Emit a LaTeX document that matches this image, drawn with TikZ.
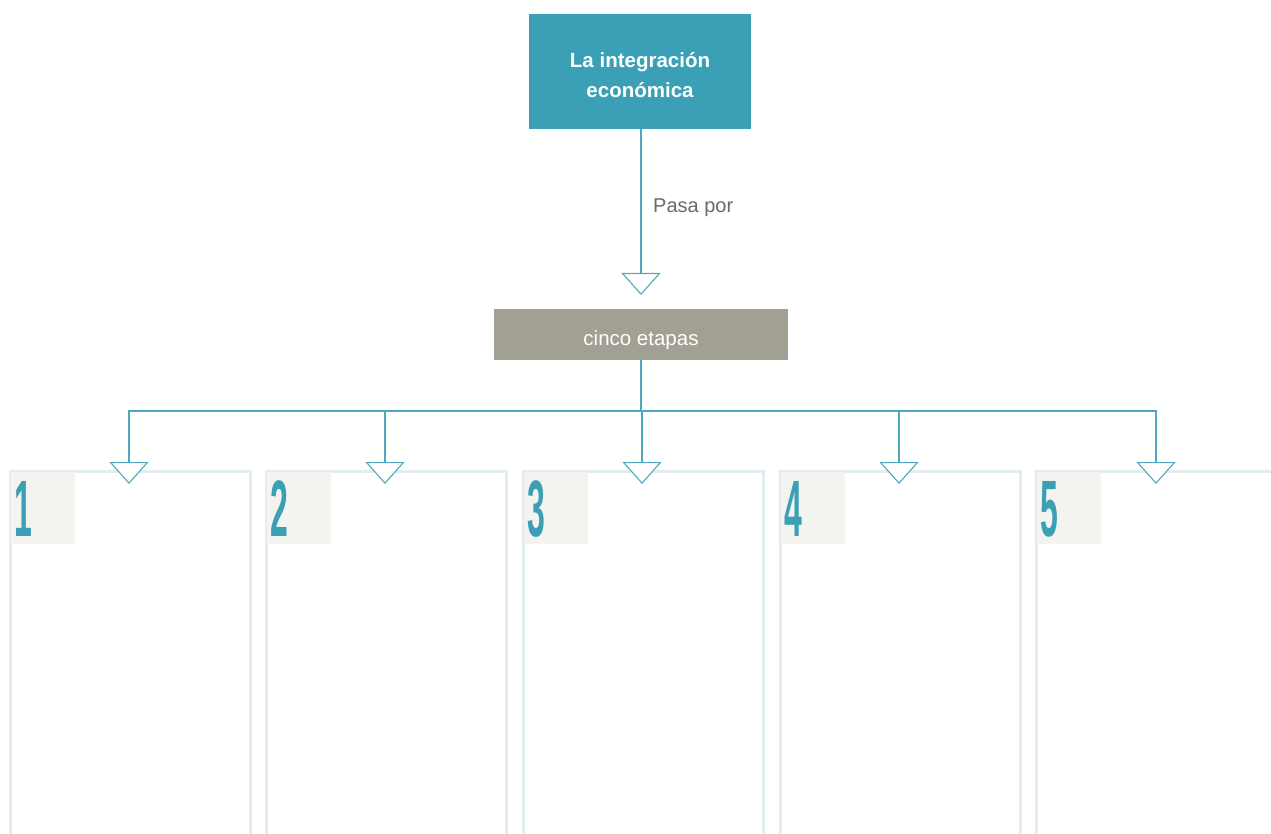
\documentclass[tikz,border=0pt]{standalone}
\usepackage{fontspec}
\setmainfont{Liberation Sans}
\usetikzlibrary{arrows.meta}
\definecolor{tealmain}{HTML}{3B9FB6}
\definecolor{tealline}{HTML}{4FA8BC}
\definecolor{stonegray}{HTML}{A29F93}
\definecolor{framecol}{HTML}{E2ECF1}
\definecolor{tabcol}{HTML}{F3F3EF}
\definecolor{labelgray}{HTML}{6A6A6A}
\tikzset{
  topbox/.style={fill=tealmain, minimum width=222pt, minimum height=115pt, inner sep=0pt},
  toptext/.style={text=white, font=\bfseries\fontsize{20.5}{30}\selectfont, align=center, inner sep=0pt},
  midbox/.style={fill=stonegray, text=white, font=\fontsize{20.5}{24}\selectfont, minimum width=294pt, minimum height=51pt, inner sep=0pt, text height=21pt, text depth=0pt},
  colbox/.style={draw=framecol, line width=2.5pt, minimum width=240pt, minimum height=420pt, inner sep=0pt, anchor=north west},
  tabbox/.style={fill=tabcol, minimum width=64pt, minimum height=72pt, inner sep=0pt, anchor=north west},
  digit/.style={text=tealmain, font=\bfseries\fontsize{80}{80}\selectfont, inner sep=0pt, anchor=west},
  conn/.style={draw=tealline, line width=1.1pt},
  tip/.style={-{Triangle[length=22pt,width=39pt,fill=white,line width=1.1pt]}},
  lbl/.style={text=labelgray, font=\fontsize{20}{24}\selectfont, anchor=west, inner sep=0pt}
}
\begin{document}
\begin{tikzpicture}[x=1pt,y=-1pt]
\useasboundingbox (0,0) rectangle (1271,834);
\clip (0,0) rectangle (1271,834);
\fill[white] (0,0) rectangle (1271,834);

\node[topbox] (top) at (640,71.5) {};
\node[toptext] (toptxt) at (640,75.5) {La integración\\económica};
\node[midbox] (mid) at (641,334.5) {cinco etapas};
\node[lbl] (pasa) at (653,208) {Pasa por};

\foreach \i/\x in {1/9,2/265,3/522,4/779,5/1035}{
  \node[colbox] (b\i) at (\x,470) {};
  \node[tabbox] (t\i) at (\x+2,472) {};
  \node[digit] (d\i) at (\x+5,509) {\scalebox{0.4}[1]{\i}};
}

\coordinate (a0) at (641,295);
\draw[conn,tip] (top.south -| a0) -- (a0);

\coordinate (j) at (641,411);
\draw[conn] (mid.south) -- (j);
\foreach \i/\x in {1/129,2/385,3/642,4/899,5/1156}{
  \coordinate (a\i) at (\x,484);
  \draw[conn,tip] (j) -| (a\i);
}
\end{tikzpicture}
\end{document}
